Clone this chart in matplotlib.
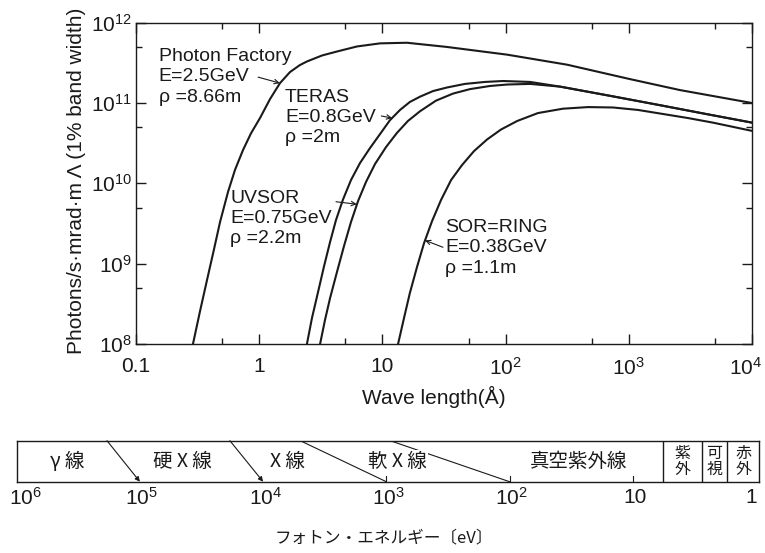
import matplotlib
matplotlib.use('Agg')
import matplotlib.pyplot as plt
import matplotlib.transforms as mtransforms
from matplotlib.ticker import LogLocator, FixedLocator, FixedFormatter, NullFormatter

plt.rcParams['font.family'] = ['Liberation Sans', 'Noto Sans CJK JP', 'DejaVu Sans']
plt.rcParams['mathtext.fontset'] = 'custom'
plt.rcParams['mathtext.rm'] = 'Liberation Sans'
plt.rcParams['mathtext.it'] = 'Liberation Sans:italic'

INK = '#1a1a1a'

# ---------------- data ----------------
pf_wl = [0.29, 0.331, 0.377, 0.430, 0.481, 0.558, 0.636, 0.739, 0.858, 1.015, 1.224, 1.475, 1.778,
         2.14, 2.44, 3.24, 4.28, 6.22, 9.57, 15.8, 33, 103, 316, 1000, 2600, 10000]
pf_flux = [1.0e8, 2.57e8, 6.25e8, 1.52e9, 3.3e9, 7.8e9, 1.47e10, 2.6e10, 4.2e10, 6.5e10, 1.12e11,
           1.77e11, 2.43e11, 2.97e11, 3.29e11, 3.91e11, 4.38e11, 5.06e11, 5.53e11, 5.63e11, 5.0e11,
           4.0e11, 3.0e11, 2.0e11, 1.45e11, 1.0e11]

teras_wl = [2.44, 2.68, 3.00, 3.36, 3.76, 4.20, 4.79, 5.56, 6.58, 7.93, 9.56, 11.5, 13.9, 16.7,
            20.2, 25.8, 33.4, 46.8, 68, 95.3, 158, 277, 703, 1790, 4240, 10000]
teras_flux = [1.0e8, 2.1e8, 4.4e8, 9.3e8, 1.86e9, 3.49e9, 6.3e9, 1.10e10, 1.79e10, 2.75e10, 4.1e10,
              6.1e10, 8.2e10, 1.03e11, 1.2e11, 1.41e11, 1.56e11, 1.73e11, 1.83e11, 1.88e11, 1.83e11,
              1.6e11, 1.23e11, 9.4e10, 7.3e10, 5.7e10]

uvsor_wl = [3.12, 3.42, 3.76, 4.28, 4.88, 5.56, 6.34, 7.36, 8.71, 10.7, 13.1, 16.1, 20.2, 27.2,
            37.4, 51.4, 74.7, 103, 158, 277, 703, 1790, 4240, 10000]
uvsor_flux = [1.0e8, 1.99e8, 3.73e8, 7.9e8, 1.66e9, 3.3e9, 6.0e9, 1.04e10, 1.74e10, 2.83e10,
              4.23e10, 5.97e10, 7.9e10, 1.07e11, 1.31e11, 1.49e11, 1.63e11, 1.70e11, 1.73e11,
              1.6e11, 1.23e11, 9.4e10, 7.3e10, 5.7e10]

sor_wl = [13.4, 14.97, 16.7, 19.1, 21.8, 25.3, 29.9, 36.1, 44.3, 55.4, 70.6, 91.8, 124, 183, 292,
          467, 745, 1188, 1897, 3024, 4820, 10000]
sor_flux = [1.0e8, 2.1e8, 4.3e8, 9.1e8, 1.81e9, 3.39e9, 6.2e9, 1.10e10, 1.69e10, 2.52e10, 3.51e10,
            4.68e10, 5.97e10, 7.5e10, 8.5e10, 8.9e10, 8.8e10, 8.2e10, 7.3e10, 6.5e10, 5.7e10, 4.5e10]

x_ticks = [0.1, 1, 10, 100, 1000, 10000]
x_ticklabels = ['0.1', '1', '10', r'$\mathregular{10^2}$', r'$\mathregular{10^3}$', r'$\mathregular{10^4}$']
y_ticks = [1e8, 1e9, 1e10, 1e11, 1e12]
y_ticklabels = [r'$\mathregular{10^{8}}$', r'$\mathregular{10^{9}}$', r'$\mathregular{10^{10}}$',
                r'$\mathregular{10^{11}}$', r'$\mathregular{10^{12}}$']

# energy band (eV)
e_ticks = [1e6, 1e5, 1e4, 1e3, 1e2, 10, 1]
e_ticklabels = [r'$\mathregular{10^6}$', r'$\mathregular{10^5}$', r'$\mathregular{10^4}$',
                r'$\mathregular{10^3}$', r'$\mathregular{10^2}$', '10', '1']
band_names = ['γ 線', '硬 X 線', 'X 線', '軟 X 線', '真空紫外線']
band_name_e = [3.9e5, 4.5e4, 6.3e3, 8.1e2, 27.5]
diag_top_e = [1.85e5, 1.86e4, 5.0e3, 9.3e2]
diag_bot_e = [1e5, 1e4, 1e3, 1e2]
diag_arrow = [True, True, False, False]
sep_e = [5.7, 2.75, 1.71]
box_names = ['紫\n外', '可\n視', '赤\n外']
box_e = [3.96, 2.17, 1.26]

W, H = 765, 553
fig = plt.figure(figsize=(W / 100, H / 100), dpi=100)

# ---------------- main chart ----------------
L, R, T, B = 136, 752, 22.7, 344
ax = fig.add_axes([L / W, 1 - B / H, (R - L) / W, (B - T) / H])
ax.set_xscale('log')
ax.set_yscale('log')
ax.set_xlim(0.1, 1e4)
ax.set_ylim(1e8, 1e12)

for wl, fl in [(pf_wl, pf_flux), (teras_wl, teras_flux), (uvsor_wl, uvsor_flux), (sor_wl, sor_flux)]:
    ax.plot(wl, fl, color=INK, lw=1.5, solid_joinstyle='round', clip_on=True)

ax.xaxis.set_major_locator(FixedLocator(x_ticks))
ax.xaxis.set_major_formatter(FixedFormatter(x_ticklabels))
ax.xaxis.set_minor_locator(LogLocator(base=10, subs=[5]))
ax.xaxis.set_minor_formatter(NullFormatter())
ax.yaxis.set_major_locator(FixedLocator(y_ticks))
ax.yaxis.set_major_formatter(FixedFormatter(y_ticklabels))
ax.yaxis.set_minor_locator(LogLocator(base=10, subs=[5]))
ax.yaxis.set_minor_formatter(NullFormatter())
ax.tick_params(which='both', direction='in', top=True, right=True, color=INK)
ax.tick_params(which='major', length=7, width=1)
ax.tick_params(which='minor', length=4, width=1)
ax.tick_params(axis='x', labelsize=15, pad=9, labelcolor=INK)
ax.tick_params(axis='y', labelsize=15, pad=3, labelcolor=INK)
for s in ax.spines.values():
    s.set_color(INK)
    s.set_linewidth(1.0)
fig.canvas.draw()
last = ax.get_xticklabels()[-1]
last.set_transform(last.get_transform() + mtransforms.ScaledTranslation(-6 / 100, 0, fig.dpi_scale_trans))

tk = dict(fontsize=14, color=INK, linespacing=1.25, va='center', ha='left', transform=ax.transAxes)
ax.text(0.037, 0.831, 'Photon Factory\nE=2.5GeV\nρ =8.66m', **tk)
ax.text(0.242, 0.705, 'TERAS\nE=0.8GeV\nρ =2m', **tk)
ax.text(0.153, 0.391, 'UVSOR\nE=0.75GeV\nρ =2.2m', **tk)
ax.text(0.502, 0.299, 'SOR=RING\nE=0.38GeV\nρ =1.1m', **tk)

ap = dict(arrowstyle='->', color=INK, lw=0.8, shrinkA=0, shrinkB=0, mutation_scale=8)
ax.annotate('', xy=(1.47, 1.77e11), xytext=(0.98, 2.1e11), arrowprops=ap)
ax.annotate('', xy=(12.0, 6.5e10), xytext=(9.8, 6.9e10), arrowprops=ap)
ax.annotate('', xy=(6.2, 5.5e9), xytext=(4.2, 5.9e9), arrowprops=ap)
ax.annotate('', xy=(22.2, 1.95e9), xytext=(31, 1.6e9), arrowprops=ap)

fig.text(77 / W, 1 - 181 / H, 'Photons/s·mrad·m Λ (1% band width)', rotation=90,
         ha='center', va='center', fontsize=15, color=INK)
fig.text(434 / W, 1 - 397 / H, 'Wave length(Å)', ha='center', va='center', fontsize=15, color=INK)

# ---------------- energy band ----------------
bL, bR, bT, bB = 16.7, 759, 440.7, 481.7
bx = fig.add_axes([bL / W, 1 - bB / H, (bR - bL) / W, (bB - bT) / H])
bx.set_xscale('log')
bx.set_xlim(1e6, 10 ** (-0.025))
bx.set_ylim(0, 1)
bx.set_xticks([])
bx.set_yticks([])
bx.minorticks_off()
for s in bx.spines.values():
    s.set_color(INK)
    s.set_linewidth(1.0)

cjk = ['Noto Sans CJK JP', 'DejaVu Sans']
for name, e in zip(band_names, band_name_e):
    bx.text(e, 0.5, name, ha='center', va='center', fontsize=14, family=cjk, color=INK,
            zorder=5, bbox=dict(facecolor='white', edgecolor='none', pad=0.5))
for e0, e1, arr in zip(diag_top_e, diag_bot_e, diag_arrow):
    if arr:
        bx.annotate('', xy=(e1, 0), xytext=(e0, 1),
                    arrowprops=dict(arrowstyle='-|>', color=INK, lw=0.8, shrinkA=0, shrinkB=0,
                                    mutation_scale=7), zorder=2)
    else:
        bx.plot([e0, e1], [1, 0], color=INK, lw=0.8, zorder=2)
for e in [1e3, 1e2, 10]:
    bx.plot([e, e], [0, 0.15], color=INK, lw=0.8)
for e in sep_e:
    bx.axvline(e, color=INK, lw=1.0)
for name, e in zip(box_names, box_e):
    bx.text(e, 0.5, name, ha='center', va='center', fontsize=11.5, family=cjk, color=INK,
            linespacing=0.95)

for i, (e, lab) in enumerate(zip(e_ticks, e_ticklabels)):
    dx = 9 if i == 0 else (-5 if i == len(e_ticks) - 1 else 2)
    bx.annotate(lab, xy=(e, 0), xytext=(dx * 0.72, -16 * 0.72), textcoords='offset points',
                ha='center', va='center', fontsize=15, color=INK, annotation_clip=False)

fig.text(384 / W, 1 - 538 / H, 'フォトン・エネルギー〔eV〕', ha='center', va='center',
         fontsize=12, family=cjk, color=INK)

fig.savefig('out.png', dpi=100, facecolor='white')
